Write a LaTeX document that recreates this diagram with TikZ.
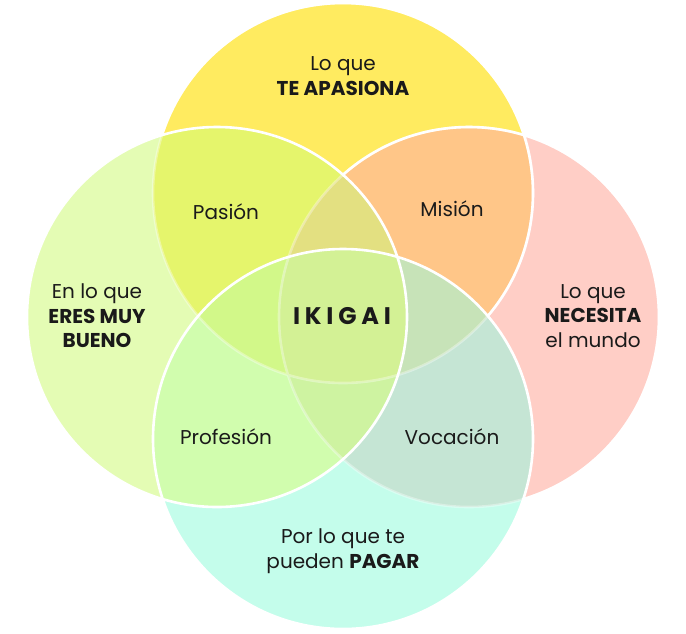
\documentclass[tikz,border=0pt]{standalone}
\usepackage{fontspec}
\setmainfont{Poppins}
\usetikzlibrary{positioning}
\definecolor{apasiona}{HTML}{FFEB60}
\definecolor{bueno}{HTML}{E4FCB4}
\definecolor{necesita}{HTML}{FFCEC6}
\definecolor{pagar}{HTML}{C4FDEB}
\definecolor{pasion}{HTML}{E5F56C}
\definecolor{mision}{HTML}{FFC688}
\definecolor{profesion}{HTML}{D1FDAE}
\definecolor{vocacion}{HTML}{C5E5D4}
\definecolor{tlr}{HTML}{E3E081}
\definecolor{tlb}{HTML}{D2F889}
\definecolor{trb}{HTML}{C7E3B8}
\definecolor{lrb}{HTML}{CEF3A1}
\definecolor{ikigai}{HTML}{D3F195}
\definecolor{ink}{HTML}{1A1A1A}
\tikzstyle{txt} = [align=center, text=ink, inner sep=0pt, font=\fontsize{20}{24.5}\selectfont]
\tikzstyle{rim} = [draw=white, line width=2.6pt]
\tikzstyle{softrim} = [draw=white, draw opacity=0.35, line width=2.6pt]

\begin{document}
\begin{tikzpicture}[x=1pt, y=-1pt]
    \useasboundingbox (0,0) rectangle (686,633);
    % Circle centres
    \coordinate (T) at (343,193);
    \coordinate (L) at (217,317);
    \coordinate (R) at (469,317);
    \coordinate (B) at (343,439);

    % One circle
    \fill[apasiona] (T) circle (190pt);
    \fill[bueno] (L) circle (190pt);
    \fill[necesita] (R) circle (190pt);
    \fill[pagar] (B) circle (190pt);

    % Two circles
    \begin{scope}
        \clip (T) circle (190pt);
        \fill[pasion] (L) circle (190pt);
        \fill[mision] (R) circle (190pt);
    \end{scope}
    \begin{scope}
        \clip (B) circle (190pt);
        \fill[profesion] (L) circle (190pt);
        \fill[vocacion] (R) circle (190pt);
    \end{scope}

    % Three circles
    \begin{scope}
        \clip (T) circle (190pt);
        \clip (L) circle (190pt);
        \fill[tlr] (R) circle (190pt);
        \fill[tlb] (B) circle (190pt);
    \end{scope}
    \begin{scope}
        \clip (B) circle (190pt);
        \clip (R) circle (190pt);
        \fill[trb] (T) circle (190pt);
        \fill[lrb] (L) circle (190pt);
    \end{scope}

    % All four
    \begin{scope}
        \clip (T) circle (190pt);
        \clip (L) circle (190pt);
        \clip (R) circle (190pt);
        \fill[ikigai] (B) circle (190pt);
    \end{scope}

    % White rims
    \path[softrim] (T) circle (190pt) (R) circle (190pt);
    \begin{scope}[even odd rule]
        \clip (-20,-20) rectangle (706,653) (L) circle (190pt);
        \clip (-20,-20) rectangle (706,653) (B) circle (190pt);
        \path[rim] (T) circle (190pt) (R) circle (190pt);
    \end{scope}
    \path[rim] (L) circle (190pt) (B) circle (190pt);

    % Labels
    \node[txt] (apasionaLbl) at (343,76) {Lo que\\\textbf{TE APASIONA}};
    \node[txt] (buenoLbl) at (97,316) {En lo que\\\textbf{ERES MUY}\\\textbf{BUENO}};
    \node[txt] (necesitaLbl) at (593,316) {Lo que\\\textbf{NECESITA}\\el mundo};
    \node[txt] (pagarLbl) at (343,551) {Por lo que te\\pueden \textbf{PAGAR}};
    \node[txt] (pasionLbl) at (226,212) {Pasión};
    \node[txt] (misionLbl) at (452,209) {Misión};
    \node[txt] (profesionLbl) at (226,437) {Profesión};
    \node[txt] (vocacionLbl) at (452,437) {Vocación};
    \node[txt, font=\fontsize{24}{24}\selectfont\bfseries\addfontfeature{LetterSpace=20}] (ikigaiLbl) at (342,316) {IKIGAI};
\end{tikzpicture}
\end{document}
